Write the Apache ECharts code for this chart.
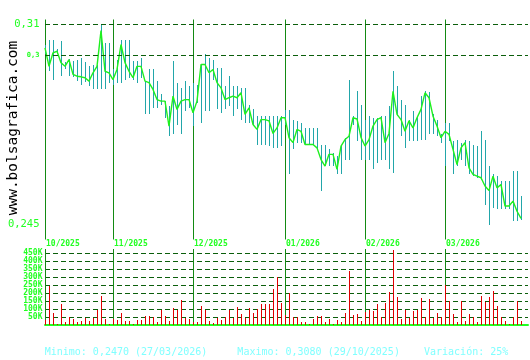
<!DOCTYPE html>
<html><head><meta charset="utf-8">
<script src="https://cdn.jsdelivr.net/npm/echarts@6/dist/echarts.min.js"></script>
<style>html,body{margin:0;padding:0;background:#fff}#c{width:530px;height:360px}</style>
</head><body><div id="c"></div>
<script>
const closes=[0.3024,0.2964,0.3008,0.3013,0.2976,0.2964,0.2986,0.2938,0.2932,0.2930,
0.2927,0.2916,0.2943,0.2964,0.3080,0.2948,0.2943,0.2921,0.2954,0.3035,
0.2976,0.2948,0.2927,0.2964,0.2964,0.2916,0.2911,0.2889,0.2856,0.2851,
0.2851,0.2770,0.2867,0.2824,0.2851,0.2856,0.2856,0.2813,0.2851,0.2970,
0.2970,0.2943,0.2954,0.2911,0.2894,0.2856,0.2862,0.2867,0.2862,0.2878,
0.2808,0.2829,0.2775,0.2759,0.2791,0.2791,0.2787,0.2746,0.2764,0.2797,
0.2797,0.2732,0.2716,0.2759,0.2753,0.2710,0.2710,0.2710,0.2699,0.2661,
0.2640,0.2678,0.2678,0.2629,0.2705,0.2726,0.2737,0.2797,0.2793,0.2733,
0.2705,0.2726,0.2770,0.2791,0.2797,0.2716,0.2746,0.2883,0.2808,0.2791,
0.2753,0.2787,0.2764,0.2797,0.2824,0.2878,0.2862,0.2802,0.2770,0.2732,
0.2753,0.2743,0.2694,0.2645,0.2699,0.2716,0.2634,0.2613,0.2607,0.2602,
0.2575,0.2560,0.2607,0.2569,0.2580,0.2510,0.2510,0.2526,0.2493,0.2470];

const highs=[0.3032,0.3051,0.3051,0.3019,0.3045,0.2977,0.2989,0.2980,0.2986,0.2992,
0.2977,0.2964,0.2967,0.2967,0.3100,0.3041,0.3041,0.2954,0.2986,0.3051,
0.3051,0.3051,0.2981,0.2981,0.2992,0.2916,0.2954,0.2954,0.2916,0.2873,
0.2851,0.2834,0.2981,0.2911,0.2894,0.2916,0.2899,0.2911,0.2905,0.2970,
0.3003,0.2992,0.2986,0.2959,0.2959,0.2899,0.2932,0.2899,0.2899,0.2894,
0.2894,0.2840,0.2824,0.2802,0.2802,0.2802,0.2802,0.2802,0.2802,0.2802,
0.2821,0.2821,0.2791,0.2786,0.2781,0.2764,0.2764,0.2764,0.2764,0.2710,
0.2710,0.2694,0.2683,0.2672,0.2710,0.2732,0.2921,0.2802,0.2883,0.2840,
0.2791,0.2802,0.2797,0.2797,0.2802,0.2802,0.2834,0.2948,0.2899,0.2856,
0.2840,0.2791,0.2818,0.2802,0.2867,0.2883,0.2880,0.2808,0.2791,0.2743,
0.2781,0.2781,0.2721,0.2726,0.2716,0.2726,0.2721,0.2710,0.2704,0.2753,
0.2726,0.2639,0.2613,0.2607,0.2591,0.2591,0.2591,0.2623,0.2623,0.2542];

const lows=[0.3003,0.2948,0.2921,0.3003,0.2932,0.2954,0.2932,0.2931,0.2916,0.2905,
0.2912,0.2899,0.2889,0.2889,0.2889,0.2889,0.2911,0.2905,0.2911,0.2911,
0.2921,0.2927,0.2921,0.2911,0.2927,0.2808,0.2808,0.2829,0.2829,0.2840,
0.2797,0.2737,0.2743,0.2775,0.2743,0.2818,0.2829,0.2770,0.2846,0.2781,
0.2818,0.2818,0.2921,0.2824,0.2813,0.2824,0.2834,0.2802,0.2824,0.2791,
0.2781,0.2781,0.2775,0.2710,0.2710,0.2710,0.2704,0.2699,0.2699,0.2704,
0.2775,0.2613,0.2694,0.2716,0.2716,0.2710,0.2710,0.2710,0.2694,0.2558,
0.2639,0.2639,0.2639,0.2613,0.2613,0.2661,0.2661,0.2775,0.2721,0.2661,
0.2661,0.2661,0.2629,0.2651,0.2661,0.2661,0.2629,0.2618,0.2802,0.2737,
0.2699,0.2721,0.2721,0.2721,0.2726,0.2726,0.2743,0.2743,0.2737,0.2716,
0.2639,0.2721,0.2613,0.2639,0.2661,0.2639,0.2613,0.2607,0.2600,0.2595,
0.2515,0.2450,0.2504,0.2499,0.2499,0.2499,0.2499,0.2461,0.2461,0.2466];

const volumes=[33000,246000,75000,8000,131000,21000,52000,37000,21000,25000,
44000,25000,44000,92000,181000,37000,4000,37000,33000,75000,
25000,25000,8000,31000,31000,56000,56000,48000,19000,94000,
54000,25000,104000,94000,154000,44000,37000,19000,19000,119000,
94000,25000,12000,44000,31000,50000,94000,44000,112000,69000,
44000,106000,77000,100000,131000,131000,131000,225000,300000,137000,
60000,200000,50000,50000,21000,21000,8000,37000,54000,54000,
21000,37000,8000,31000,21000,75000,335000,62000,69000,25000,
80000,94000,87000,131000,50000,137000,204000,470000,175000,37000,
94000,44000,87000,94000,169000,50000,162000,44000,75000,50000,
252000,150000,69000,19000,150000,25000,69000,50000,19000,181000,
144000,175000,212000,119000,50000,25000,8000,50000,150000,25000];

const monthStarts=[0,17,37,60,80,100];
const monthLabels=['10/2025','11/2025','12/2025','01/2026','02/2026','03/2026'];
const priceLines=[0.31,0.3,0.245];
const footer='Minimo: 0,2470 (27/03/2026)     Maximo: 0,3080 (29/10/2025)    Variación: 25%';
const watermark='www.bolsagrafica.com';

const MONO='"DejaVu Sans Mono", monospace';
const BRIGHT='#22ff22';
const MONTH='#138a13';
const DASH='#0b5e0b';

const chart=echarts.init(document.getElementById('c'),null,{renderer:'canvas'});

function vline(x,y0,y1,color){
  return {type:'line',shape:{x1:x+0.5,y1:y0,x2:x+0.5,y2:y1},style:{stroke:color,lineWidth:1,fill:null}};
}
function rangeItem(params,api){
  const i=api.value(0);
  const a=api.coord([i,api.value(1)]);
  const b=api.coord([i,api.value(2)]);
  const x=Math.round(a[0]);
  const y0=Math.round(a[1]), y1=Math.max(Math.round(b[1]),Math.round(a[1])+1);
  return vline(x,y0,y1,'#22a6aa');
}
function volItem(params,api){
  const i=api.value(0);
  const a=api.coord([i,api.value(1)]);
  const b=api.coord([i,0]);
  const x=Math.round(a[0]);
  return vline(x,Math.round(a[1]),Math.round(b[1]),'#e00000');
}
function monthPriceItem(params,api){
  const i=api.value(0);
  const p=api.coord([i,0.31]);
  const cs=params.coordSys;
  const x=Math.round(p[0]);
  return {type:'group',children:[
    vline(x,cs.y-5,cs.y+cs.height+15,MONTH),
    {type:'text',x:x+1,y:cs.y+cs.height+19,style:{text:monthLabels[params.dataIndex],fontFamily:MONO,fontSize:8,fontWeight:'bold',fill:BRIGHT,align:'left',verticalAlign:'middle'}}
  ]};
}
function monthVolItem(params,api){
  const i=api.value(0);
  const p=api.coord([i,0]);
  const cs=params.coordSys;
  const x=Math.round(p[0]);
  return vline(x,cs.y-4,cs.y+cs.height,MONTH);
}

const option={
  animation:false,
  backgroundColor:'#ffffff',
  grid:[
    {left:45,top:24.5,width:483,height:200},
    {left:45,top:253,width:483,height:72}
  ],
  xAxis:[
    {type:'value',gridIndex:0,min:0,max:120.75,show:false},
    {type:'value',gridIndex:1,min:0,max:120.75,
      axisLine:{show:true,onZero:false,lineStyle:{color:BRIGHT,width:2}},
      axisTick:{show:false},axisLabel:{show:false},splitLine:{show:false}}
  ],
  yAxis:[
    {type:'value',gridIndex:0,min:0.245,max:0.31,interval:0.005,offset:1.5,
      axisLine:{show:true,lineStyle:{color:BRIGHT,width:1}},
      axisTick:{show:false},splitLine:{show:false},
      axisLabel:{margin:4,formatter:function(v){
        if(Math.abs(v-0.31)<1e-6) return '{big|0,31}';
        if(Math.abs(v-0.3)<1e-6) return '{small|0,3}';
        if(Math.abs(v-0.245)<1e-6) return '{big|0,245}';
        return '';
      },rich:{
        big:{fontFamily:MONO,fontSize:10.5,color:BRIGHT},
        small:{fontFamily:MONO,fontSize:7,fontWeight:'bold',color:BRIGHT}
      }}},
    {type:'value',gridIndex:1,min:0,max:450000,interval:50000,offset:1.5,
      axisLine:{show:true,lineStyle:{color:BRIGHT,width:1}},
      axisTick:{show:false},
      splitLine:{show:true,lineStyle:{color:DASH,type:[5,3],width:1}},
      axisLabel:{margin:1,showMinLabel:false,fontFamily:MONO,fontSize:8,fontWeight:'bold',color:BRIGHT,
        formatter:function(v){return v===0?'':(v/1000)+'K';}}}
  ],
  series:[
    {type:'custom',name:'rango',xAxisIndex:0,yAxisIndex:0,clip:false,z:2,
      renderItem:rangeItem,
      data:closes.map((c,i)=>[i,highs[i],lows[i]])},
    {type:'custom',name:'meses',xAxisIndex:0,yAxisIndex:0,clip:false,z:1,
      renderItem:monthPriceItem,
      data:monthStarts.map(i=>[i,0.31])},
    {type:'line',name:'cierre',xAxisIndex:0,yAxisIndex:0,z:3,
      symbol:'none',
      lineStyle:{color:'#1ef01e',width:1.4},
      data:closes.map((c,i)=>[i,c]),
      markLine:{silent:true,symbol:['none','none'],label:{show:false},
        lineStyle:{color:DASH,type:[5,3],width:1},
        data:priceLines.map(v=>({yAxis:v}))}},
    {type:'custom',name:'mesesVol',xAxisIndex:1,yAxisIndex:1,clip:false,z:1,
      renderItem:monthVolItem,
      data:monthStarts.map(i=>[i,0])},
    {type:'custom',name:'volumen',xAxisIndex:1,yAxisIndex:1,clip:false,z:2,
      renderItem:volItem,
      data:volumes.map((v,i)=>[i,v])}
  ],
  graphic:[
    {type:'text',x:13,y:128,rotation:Math.PI/2,
      style:{text:watermark,fontFamily:MONO,fontSize:14.5,fill:'#000000',align:'center',verticalAlign:'middle'}},
    {type:'text',x:44.7,y:352,
      style:{text:footer,fontFamily:MONO,fontSize:10,fill:'#80ffff',align:'left',verticalAlign:'middle'}}
  ]
};
chart.setOption(option);
</script>
</body></html>
